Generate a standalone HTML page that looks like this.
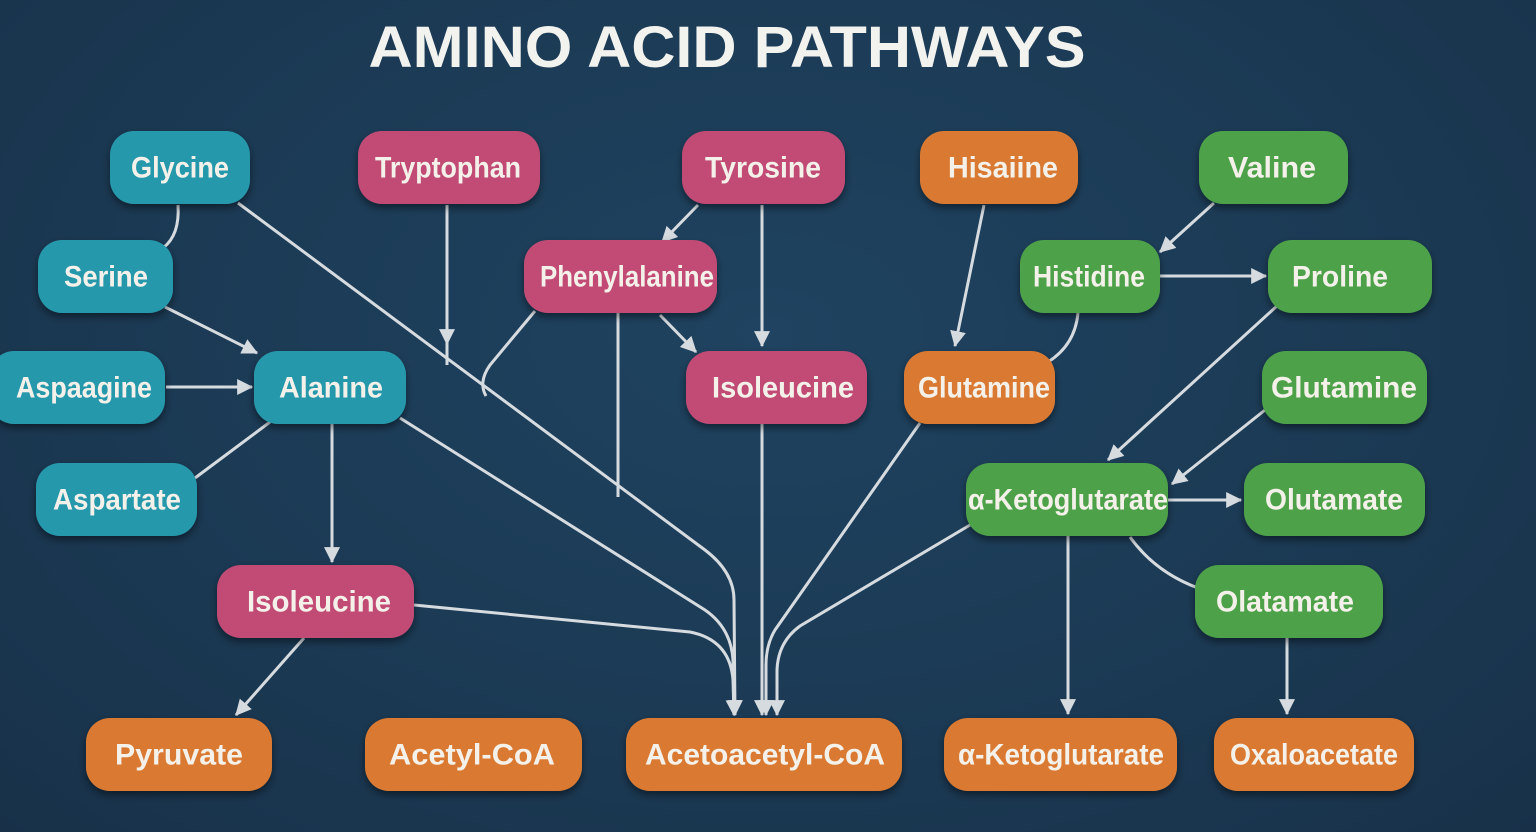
<!DOCTYPE html>
<html><head><meta charset="utf-8"><style>
html,body{margin:0;padding:0;}
body{width:1536px;height:832px;overflow:hidden;background:radial-gradient(ellipse at 50% 40%,#1f4360 0%,#1b3953 60%,#183149 100%);}
svg{display:block}
.n{font-family:"Liberation Sans",sans-serif;font-weight:bold;font-size:30px;fill:#f4f1ea;}
</style></head><body>
<svg width="1536" height="832" viewBox="0 0 1536 832">
<defs>
<marker id="a" markerWidth="16" markerHeight="16" refX="13" refY="7" orient="auto" markerUnits="userSpaceOnUse" viewBox="0 0 14 14"><path d="M0,0 L14,7 L0,14 z" fill="#d6dbe0"/></marker>
<filter id="s" x="-20%" y="-20%" width="140%" height="150%"><feDropShadow dx="0" dy="4" stdDeviation="4" flood-color="#000" flood-opacity="0.45"/></filter>
</defs>
<text x="727" y="67" text-anchor="middle" font-family="Liberation Sans,sans-serif" font-weight="bold" font-size="58" fill="#f2f2ee" textLength="717" lengthAdjust="spacingAndGlyphs">AMINO ACID PATHWAYS</text>
<g stroke="#d6dbe0" stroke-width="3" fill="none">
<path d="M178,205 Q180,235 163,248"/>
<path d="M165,307 L257,353" marker-end="url(#a)"/>
<path d="M166,387 L252,387" marker-end="url(#a)"/>
<path d="M195,478 L270,422"/>
<path d="M332,424 L332,562" marker-end="url(#a)"/>
<path d="M304,638 L236,715" marker-end="url(#a)"/>
<path d="M447,205 L447,344" marker-end="url(#a)"/>
<path d="M447,342 L447,365"/>
<path d="M238,203 L705,550 Q734,572 734,600 L735,715" marker-end="url(#a)"/>
<path d="M400,418 L705,610 Q731,628 733,660 L734,715" marker-end="url(#a)"/>
<path d="M414,605 L690,632 Q730,640 733,680 L734,715" marker-end="url(#a)"/>
<path d="M535,311 L490,365 Q478,382 486,396"/>
<path d="M618,313 L618,497"/>
<path d="M698,205 L662,242" marker-end="url(#a)"/>
<path d="M762,205 L762,346" marker-end="url(#a)"/>
<path d="M660,315 L696,352" marker-end="url(#a)"/>
<path d="M762,424 L762,715" marker-end="url(#a)"/>
<path d="M920,423 L775,630 Q766,645 766,665 L766,715" marker-end="url(#a)"/>
<path d="M970,525 L800,626 Q778,642 777,670 L777,715" marker-end="url(#a)"/>
<path d="M984,205 L955,346" marker-end="url(#a)"/>
<path d="M1078,313 Q1075,345 1048,362"/>
<path d="M1214,203 L1160,252" marker-end="url(#a)"/>
<path d="M1160,276 L1266,276" marker-end="url(#a)"/>
<path d="M1278,305 L1108,460" marker-end="url(#a)"/>
<path d="M1265,410 L1172,484" marker-end="url(#a)"/>
<path d="M1168,500 L1241,500" marker-end="url(#a)"/>
<path d="M1068,536 L1068,714" marker-end="url(#a)"/>
<path d="M1130,537 Q1155,572 1198,588"/>
<path d="M1287,638 L1287,714" marker-end="url(#a)"/>
</g>
<g filter="url(#s)">
<rect x="110" y="131" width="140" height="73" rx="24" fill="#2898ac"/>
<rect x="38" y="240" width="135" height="73" rx="24" fill="#2898ac"/>
<rect x="-10" y="351" width="175" height="73" rx="24" fill="#2898ac"/>
<rect x="254" y="351" width="152" height="73" rx="24" fill="#2898ac"/>
<rect x="36" y="463" width="161" height="73" rx="24" fill="#2898ac"/>
<rect x="358" y="131" width="182" height="73" rx="24" fill="#c14b75"/>
<rect x="682" y="131" width="163" height="73" rx="24" fill="#c14b75"/>
<rect x="524" y="240" width="193" height="73" rx="24" fill="#c14b75"/>
<rect x="686" y="351" width="181" height="73" rx="24" fill="#c14b75"/>
<rect x="217" y="565" width="197" height="73" rx="24" fill="#c14b75"/>
<rect x="920" y="131" width="158" height="73" rx="24" fill="#da7a30"/>
<rect x="904" y="351" width="151" height="73" rx="24" fill="#da7a30"/>
<rect x="86" y="718" width="186" height="73" rx="24" fill="#da7a30"/>
<rect x="365" y="718" width="217" height="73" rx="24" fill="#da7a30"/>
<rect x="626" y="718" width="276" height="73" rx="24" fill="#da7a30"/>
<rect x="944" y="718" width="233" height="73" rx="24" fill="#da7a30"/>
<rect x="1214" y="718" width="200" height="73" rx="24" fill="#da7a30"/>
<rect x="1199" y="131" width="149" height="73" rx="24" fill="#4ea14a"/>
<rect x="1020" y="240" width="140" height="73" rx="24" fill="#4ea14a"/>
<rect x="1268" y="240" width="164" height="73" rx="24" fill="#4ea14a"/>
<rect x="1262" y="351" width="165" height="73" rx="24" fill="#4ea14a"/>
<rect x="966" y="463" width="202" height="73" rx="24" fill="#4ea14a"/>
<rect x="1244" y="463" width="181" height="73" rx="24" fill="#4ea14a"/>
<rect x="1195" y="565" width="188" height="73" rx="24" fill="#4ea14a"/>
</g>
<g class="n" text-anchor="middle" dominant-baseline="central">
<text x="180" y="168" textLength="98" lengthAdjust="spacingAndGlyphs">Glycine</text>
<text x="106" y="277" textLength="84" lengthAdjust="spacingAndGlyphs">Serine</text>
<text x="84" y="388" textLength="136" lengthAdjust="spacingAndGlyphs">Aspaagine</text>
<text x="331" y="388" textLength="104" lengthAdjust="spacingAndGlyphs">Alanine</text>
<text x="117" y="500" textLength="128" lengthAdjust="spacingAndGlyphs">Aspartate</text>
<text x="448" y="168" textLength="146" lengthAdjust="spacingAndGlyphs">Tryptophan</text>
<text x="763" y="168" textLength="116" lengthAdjust="spacingAndGlyphs">Tyrosine</text>
<text x="627" y="277" textLength="174" lengthAdjust="spacingAndGlyphs">Phenylalanine</text>
<text x="783" y="388" textLength="142" lengthAdjust="spacingAndGlyphs">Isoleucine</text>
<text x="319" y="602" textLength="144" lengthAdjust="spacingAndGlyphs">Isoleucine</text>
<text x="1003" y="168" textLength="110" lengthAdjust="spacingAndGlyphs">Hisaiine</text>
<text x="984" y="388" textLength="132" lengthAdjust="spacingAndGlyphs">Glutamine</text>
<text x="179" y="755" textLength="128" lengthAdjust="spacingAndGlyphs">Pyruvate</text>
<text x="472" y="755" textLength="166" lengthAdjust="spacingAndGlyphs">Acetyl-CoA</text>
<text x="765" y="755" textLength="240" lengthAdjust="spacingAndGlyphs">Acetoacetyl-CoA</text>
<text x="1061" y="755" textLength="206" lengthAdjust="spacingAndGlyphs">α-Ketoglutarate</text>
<text x="1314" y="755" textLength="168" lengthAdjust="spacingAndGlyphs">Oxaloacetate</text>
<text x="1272" y="168" textLength="88" lengthAdjust="spacingAndGlyphs">Valine</text>
<text x="1089" y="277" textLength="112" lengthAdjust="spacingAndGlyphs">Histidine</text>
<text x="1340" y="277" textLength="96" lengthAdjust="spacingAndGlyphs">Proline</text>
<text x="1344" y="388" textLength="146" lengthAdjust="spacingAndGlyphs">Glutamine</text>
<text x="1068" y="500" textLength="200" lengthAdjust="spacingAndGlyphs">α-Ketoglutarate</text>
<text x="1334" y="500" textLength="138" lengthAdjust="spacingAndGlyphs">Olutamate</text>
<text x="1285" y="602" textLength="138" lengthAdjust="spacingAndGlyphs">Olatamate</text>
</g>
</svg>
</body></html>
